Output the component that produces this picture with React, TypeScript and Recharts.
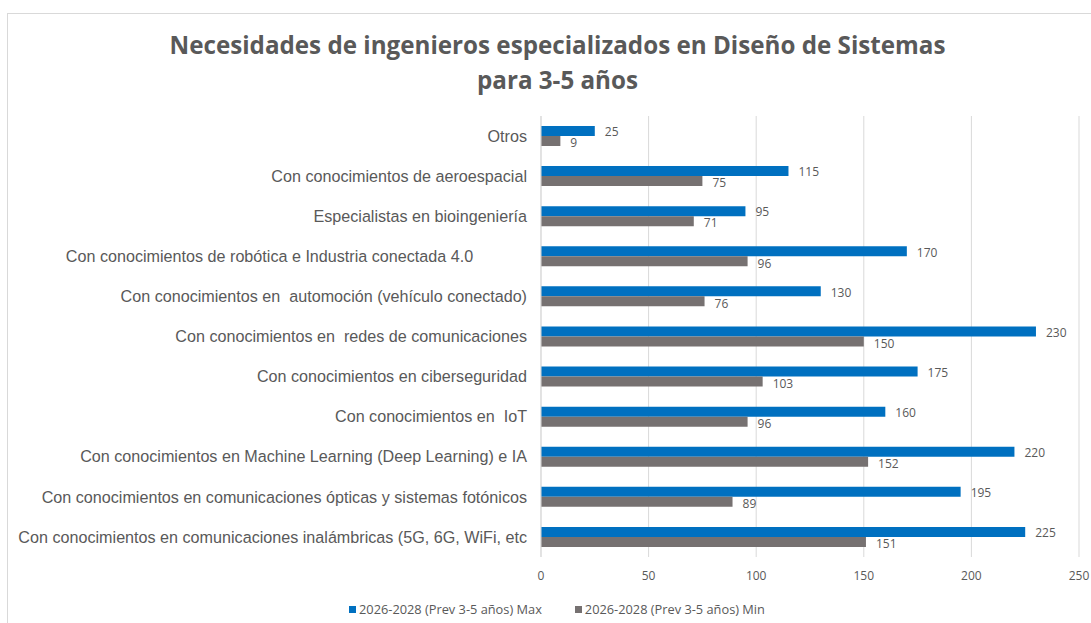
import { BarChart, Bar, XAxis, YAxis, CartesianGrid, LabelList } from "recharts";

const categories = [
  "Otros",
  "Con conocimientos de aeroespacial",
  "Especialistas en bioingeniería",
  "Con conocimientos de robótica e Industria conectada 4.0            ",
  "Con conocimientos en  automoción (vehículo conectado)",
  "Con conocimientos en  redes de comunicaciones",
  "Con conocimientos en ciberseguridad",
  "Con conocimientos en  IoT",
  "Con conocimientos en Machine Learning (Deep Learning) e IA",
  "Con conocimientos en comunicaciones ópticas y sistemas fotónicos",
  "Con conocimientos en comunicaciones inalámbricas (5G, 6G, WiFi, etc",
];
const maxValues = [25, 115, 95, 170, 130, 230, 175, 160, 220, 195, 225];
const minValues = [9, 75, 71, 96, 76, 150, 103, 96, 152, 89, 151];
const xTicks = [0, 50, 100, 150, 200, 250];

const seriesMax = "2026-2028 (Prev 3-5 años) Max";
const seriesMin = "2026-2028 (Prev 3-5 años) Min";

const data = categories.map((name, i) => ({ name, max: maxValues[i], min: minValues[i] }));

const BLUE = "#0070C0";
const GRAY = "#767171";
const TEXT = "#595959";
const GRID = "#D9D9D9";
const SMALL_FONT = "'Open Sans', sans-serif";

const CategoryTick = ({ x, y, payload }: { x?: number; y?: number; payload?: { value: string } }) => (
  <text
    x={x}
    y={y}
    dy="0.35em"
    textAnchor="end"
    fill={TEXT}
    fontSize={16.15}
    fontFamily="'Liberation Sans', Arial, sans-serif"
    style={{ whiteSpace: "pre" }}
  >
    {payload?.value}
  </text>
);

export default function App() {
  return (
    <div style={{ position: "absolute", left: 0, top: 0, width: 1091, height: 623, overflow: "hidden", background: "#fff" }}>
      <div
        style={{
          position: "absolute",
          left: 7,
          top: 13,
          width: 1200,
          height: 700,
          border: `1px solid ${GRID}`,
        }}
      />
      <div
        style={{
          position: "absolute",
          left: 0,
          top: 27,
          width: 1115,
          textAlign: "center",
          fontFamily: "'Open Sans', sans-serif",
          fontWeight: 700,
          fontSize: 24.2,
          lineHeight: "35px",
          color: TEXT,
        }}
      >
        Necesidades de ingenieros especializados en Diseño de Sistemas
        <br />
        para 3-5 años
      </div>
      <div style={{ position: "absolute", left: 0, top: 0 }}>
        <BarChart
          width={1091}
          height={623}
          data={data}
          layout="vertical"
          margin={{ top: 116, right: 12, bottom: 36, left: 0 }}
          barGap={0}
          barSize={10}
        >
          <CartesianGrid horizontal={false} stroke={GRID} />
          <XAxis
            type="number"
            domain={[0, 250]}
            ticks={xTicks}
            axisLine={false}
            tickLine={false}
            height={30}
            tick={{ fontSize: 12, fill: TEXT, fontFamily: SMALL_FONT }}
            tickMargin={8}
          />
          <YAxis
            type="category"
            dataKey="name"
            width={541}
            axisLine={{ stroke: GRID }}
            tickLine={false}
            tickMargin={8}
            interval={0}
            tick={<CategoryTick />}
          />
          <Bar dataKey="max" fill={BLUE} isAnimationActive={false}>
            <LabelList dataKey="max" position="right" offset={10} dy={1} fill={TEXT} fontSize={12} fontFamily={SMALL_FONT} />
          </Bar>
          <Bar dataKey="min" fill={GRAY} isAnimationActive={false}>
            <LabelList dataKey="min" position="right" offset={10} dy={2} fill={TEXT} fontSize={12} fontFamily={SMALL_FONT} />
          </Bar>
        </BarChart>
      </div>
      <div
        style={{
          position: "absolute",
          left: 349,
          top: 601,
          display: "flex",
          alignItems: "center",
          fontFamily: SMALL_FONT,
          fontSize: 12.8,
          lineHeight: "16px",
          color: TEXT,
          whiteSpace: "nowrap",
        }}
      >
        <span style={{ width: 7, height: 7, background: BLUE, marginRight: 3 }} />
        <span style={{ marginRight: 33 }}>{seriesMax}</span>
        <span style={{ width: 7, height: 7, background: GRAY, marginRight: 3 }} />
        <span>{seriesMin}</span>
      </div>
    </div>
  );
}
